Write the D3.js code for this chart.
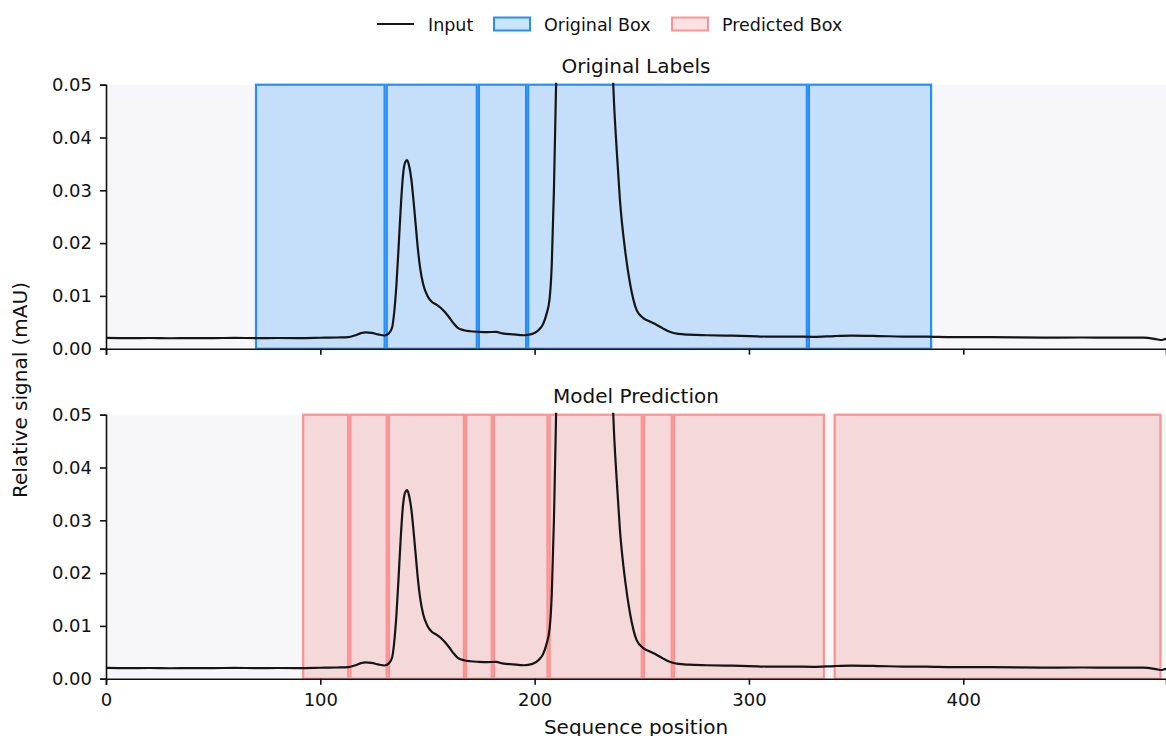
<!DOCTYPE html>
<html>
<head>
<meta charset="utf-8">
<script src="https://cdn.jsdelivr.net/npm/d3@7"></script>
<style>
  body { margin: 0; background: #fff; }
  svg text { font-family: "DejaVu Sans", sans-serif; fill: #111; }
</style>
</head>
<body>
<div id="viz"></div>
<script>
// signal (position, relative signal)
var positions = [0, 10, 20, 30, 40, 50, 60, 70, 80, 90, 100, 108, 113, 116, 119, 121, 124, 127, 130, 132,
  133.5, 134.5, 135.5, 136.5, 137.5, 138.5, 139.5, 140.5, 141.5, 142.5, 143.5, 144.5, 145.5, 146.5, 148, 150,
  152, 154, 156, 158, 160, 162, 164, 167, 170, 174, 178, 182, 185, 190, 195, 199, 202, 204, 205.5, 207, 208,
  209, 210, 212, 215, 218, 222, 226, 230, 233, 235, 236.7, 238.3, 239.8, 242.2, 244.5, 247.6, 250.7, 254, 257,
  260, 263, 267, 272, 280, 290, 300, 310, 320, 330, 340, 348, 360, 372, 383, 395, 410, 425, 440, 455, 470, 484,
  490, 492, 494, 495];
var signal = [0.00205, 0.00200, 0.00203, 0.00198, 0.00202, 0.00200, 0.00205, 0.00200, 0.00203, 0.00202, 0.00207,
  0.00212, 0.00220, 0.00250, 0.00295, 0.00310, 0.00300, 0.00270, 0.00250, 0.00290,
  0.0040, 0.0070, 0.0120, 0.0190, 0.0265, 0.0325, 0.0352, 0.0357, 0.0345, 0.0320, 0.0280, 0.0235, 0.0190, 0.0155,
  0.0122, 0.0100, 0.0089, 0.0084, 0.0078, 0.0070, 0.0060, 0.0049, 0.0040, 0.0035, 0.0033, 0.0032, 0.00315,
  0.00318, 0.0029, 0.0027, 0.00255, 0.0028, 0.0036, 0.0047, 0.0065, 0.0095, 0.016, 0.030, 0.050, 0.090, 0.25,
  0.55, 0.9, 0.75, 0.35, 0.14, 0.075, 0.05, 0.0376, 0.0282, 0.0187, 0.0124, 0.0073, 0.0058, 0.0051, 0.0045,
  0.0038, 0.0032, 0.0028, 0.00265, 0.00255, 0.00248, 0.0024, 0.00228, 0.0023, 0.00225, 0.0024, 0.00246,
  0.0024, 0.0023, 0.00228, 0.0022, 0.0022, 0.00215, 0.0021, 0.00212, 0.0021, 0.0021, 0.0018, 0.00165, 0.0018,
  0.0019];

var originalBoxes = [[70, 130], [131, 173], [174, 196], [197, 327], [328, 385]];
var predictedBoxes = [[92, 113], [114, 131], [132, 167], [168, 180], [181, 206], [207, 250], [251, 264],
  [265, 335], [340, 492]];

var xTicks = [0, 100, 200, 300, 400];
var yTicks = [0, 0.01, 0.02, 0.03, 0.04, 0.05];

var width = 1166,
    height = 736,
    margin = {left: 106, right: 0},
    panelHeight = 264;

var panels = [
  {title: "Original Labels", top: 84.7, boxes: originalBoxes, fill: "#1e90ff", fillOpacity: 0.23,
   stroke: "#1e88f5", strokeOpacity: 0.95, showLabels: false},
  {title: "Model Prediction", top: 414.7, boxes: predictedBoxes, fill: "#f08080", fillOpacity: 0.25,
   stroke: "#ff7a7a", strokeOpacity: 0.8, showLabels: true}
];

var svg = d3.select("#viz").append("svg")
  .attr("width", width)
  .attr("height", height);

var xScale = d3.scaleLinear().domain([0, 494.6]).range([margin.left, width - margin.right]);

var data = positions.map((p, i) => ({x: p, y: signal[i]}));

panels.forEach((p, i) => {
  var yScale = d3.scaleLinear().domain([0, 0.05]).range([p.top + panelHeight, p.top]);
  var g = svg.append("g");

  g.append("clipPath").attr("id", "clip" + i)
    .append("rect")
    .attr("x", margin.left).attr("y", p.top - 2)
    .attr("width", width - margin.left).attr("height", panelHeight + 2);

  // panel background
  g.append("rect")
    .attr("x", margin.left).attr("y", p.top)
    .attr("width", width - margin.left).attr("height", panelHeight)
    .attr("fill", "#f7f7f9");

  // boxes
  g.append("g").attr("clip-path", `url(#clip${i})`)
    .selectAll("rect")
    .data(p.boxes)
    .enter().append("rect")
    .attr("x", d => xScale(d[0]))
    .attr("y", yScale(0.05))
    .attr("width", d => xScale(d[1]) - xScale(d[0]))
    .attr("height", yScale(0) - yScale(0.05))
    .attr("fill", p.fill)
    .attr("fill-opacity", p.fillOpacity)
    .attr("stroke", p.stroke)
    .attr("stroke-opacity", p.strokeOpacity)
    .attr("stroke-width", 2.2);

  // input trace
  var line = d3.line().x(d => xScale(d.x)).y(d => yScale(d.y)).curve(d3.curveMonotoneX);
  g.append("path")
    .datum(data)
    .attr("clip-path", `url(#clip${i})`)
    .attr("fill", "none")
    .attr("stroke", "#151515")
    .attr("stroke-width", 2.2)
    .attr("stroke-linejoin", "round")
    .attr("d", line);

  // axes
  var xAxis = d3.axisBottom(xScale).tickValues(xTicks).tickSizeOuter(0).tickSize(6).tickPadding(9);
  if (!p.showLabels) xAxis.tickFormat("");
  var gx = g.append("g")
    .attr("transform", `translate(0,${p.top + panelHeight})`)
    .call(xAxis);

  var yAxis = d3.axisLeft(yScale).tickValues(yTicks).tickFormat(d3.format(".2f")).tickSizeOuter(0).tickSize(6).tickPadding(8);
  var gy = g.append("g")
    .attr("transform", `translate(${margin.left},0)`)
    .call(yAxis);

  [gx, gy].forEach(a => {
    a.select(".domain").attr("stroke", "#111").attr("stroke-width", 1.6);
    a.selectAll(".tick line").attr("stroke", "#111").attr("stroke-width", 1.6);
    a.selectAll(".tick text").style("font-size", "18px").attr("fill", "#111");
  });

  g.append("text")
    .attr("x", (margin.left + width) / 2)
    .attr("y", p.top - 12.2)
    .attr("text-anchor", "middle")
    .style("font-size", "20px")
    .text(p.title);
});

// axis titles
svg.append("text")
  .attr("x", (margin.left + width) / 2)
  .attr("y", 734)
  .attr("text-anchor", "middle")
  .style("font-size", "20px")
  .text("Sequence position");

svg.append("text")
  .attr("transform", "translate(26.5,390) rotate(-90)")
  .attr("text-anchor", "middle")
  .style("font-size", "20px")
  .text("Relative signal (mAU)");

// legend
var legend = svg.append("g").attr("transform", "translate(0,24)");
legend.append("line")
  .attr("x1", 377).attr("x2", 414).attr("y1", 0).attr("y2", 0)
  .attr("stroke", "#151515").attr("stroke-width", 2.2);
legend.append("text").attr("x", 428).attr("y", 6.5).style("font-size", "17.5px").text("Input");

var legendBoxes = [
  {x: 494, label: "Original Box", fill: "#1e90ff", stroke: "#1e88f5", so: 0.95},
  {x: 672, label: "Predicted Box", fill: "#f08080", stroke: "#ff7a7a", so: 0.8}
];
legendBoxes.forEach(b => {
  legend.append("rect")
    .attr("x", b.x).attr("y", -6.5).attr("width", 36).attr("height", 13)
    .attr("fill", b.fill).attr("fill-opacity", 0.23)
    .attr("stroke", b.stroke).attr("stroke-opacity", b.so).attr("stroke-width", 2);
  legend.append("text").attr("x", b.x + 50).attr("y", 6.5).style("font-size", "17.5px").text(b.label);
});
</script>
</body>
</html>
